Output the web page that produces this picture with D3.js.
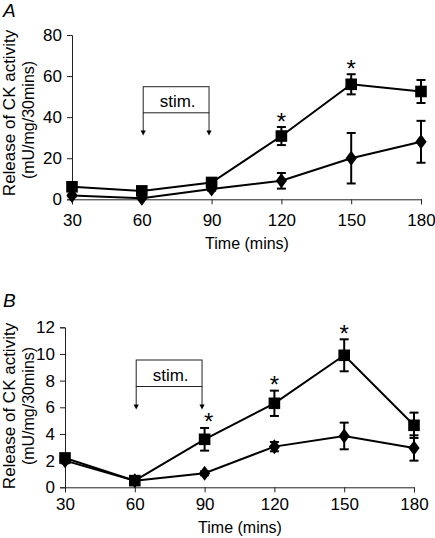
<!DOCTYPE html>
<html>
<head>
<meta charset="utf-8">
<script src="https://cdn.jsdelivr.net/npm/d3@7"></script>
<style>
  html, body { margin: 0; padding: 0; background: #fff; }
  text { font-family: "Liberation Sans", Arial, sans-serif; fill: #000; }
</style>
</head>
<body>
<svg id="chart" width="435" height="538"></svg>
<script>
// ---- data ----
const times = [30, 60, 90, 120, 150, 180];

const aSquare     = [6.1, 4.1, 8.2, 30.8, 56.0, 52.5];
const aSquareErr  = [0.8, 0.8, 1.0, 4.4, 4.9, 5.6];
const aDiamond    = [1.8, 0.5, 5.0, 9.0, 20.0, 28.0];
const aDiamondErr = [0.5, 0.3, 0.8, 3.8, 12.3, 10.2];
const aStars      = [120, 150];
const aYTicks     = [0, 20, 40, 60, 80];

const bSquare     = [2.2, 0.5, 3.6, 6.3, 9.9, 4.65];
const bSquareErr  = [0.3, 0.2, 0.85, 0.95, 1.2, 0.95];
const bDiamond    = [2.0, 0.5, 1.05, 3.05, 3.85, 2.95];
const bDiamondErr = [0.2, 0.2, 0.15, 0.35, 1.0, 0.95];
const bStars      = [90, 120, 150];
const bYTicks     = [0, 2, 4, 6, 8, 10, 12];

const xTicks = [30, 60, 90, 120, 150, 180];
const yTitle1 = "Release of CK activity";
const yTitle2 = "(mU/mg/30mins)";
const xTitle = "Time (mins)";
const stimLabel = "stim.";
const stimRange = [60.6, 88.9];

// ---- layout ----
const panels = [
  { label: "A", labelY: 17, sq: aSquare, sqE: aSquareErr, di: aDiamond, diE: aDiamondErr,
    stars: aStars, yTicks: aYTicks, yMax: 80,
    xr: [72, 421], yr: [199.3, 35], tickLabY: 226.5, xTitleX: 247, xTitleY: 249,
    yt1: 113, yt2: 120, stim: { top: 86.7, mid: 112.8, tip: 135.5 }, starDx: [0, 0] },
  { label: "B", labelY: 307, sq: bSquare, sqE: bSquareErr, di: bDiamond, diE: bDiamondErr,
    stars: bStars, yTicks: bYTicks, yMax: 12,
    xr: [65, 414], yr: [487.3, 327.3], tickLabY: 510, xTitleX: 240, xTitleY: 533,
    yt1: 406, yt2: 406, stim: { top: 360, mid: 386.5, tip: 409.5 }, starDx: [4, 0, 0] }
];

const svg = d3.select("#chart");
const axisColor = "#222";
const fontFam = "'Liberation Sans', Arial, sans-serif";

panels.forEach(p => {
  const x = d3.scaleLinear().domain([30, 180]).range(p.xr);
  const y = d3.scaleLinear().domain([0, p.yMax]).range(p.yr);
  const g = svg.append("g");

  // panel letter
  g.append("text").attr("x", 3).attr("y", p.labelY)
    .attr("font-size", 19).attr("font-style", "italic").text(p.label);

  // y axis
  const yAxis = d3.axisLeft(y).tickValues(p.yTicks).tickSize(5).tickPadding(5)
    .tickFormat(d3.format("d"));
  const ya = g.append("g").attr("transform", `translate(${p.xr[0]},0)`).call(yAxis);
  ya.attr("font-family", fontFam).attr("font-size", 17);
  ya.select(".domain").attr("stroke", axisColor);
  ya.selectAll(".tick line").attr("stroke", axisColor);
  ya.selectAll(".tick text").attr("fill", "#000");

  // x axis
  const xAxis = d3.axisBottom(x).tickValues(xTicks).tickSize(5).tickFormat(d3.format("d"));
  const xa = g.append("g").attr("transform", `translate(0,${p.yr[0]})`).call(xAxis);
  xa.attr("font-family", fontFam).attr("font-size", 17);
  xa.select(".domain").attr("stroke", axisColor);
  xa.selectAll(".tick line").attr("stroke", axisColor);
  xa.selectAll(".tick text").attr("fill", "#000").attr("dy", null).attr("y", p.tickLabY - p.yr[0]);

  // axis titles
  g.append("text").attr("transform", `translate(15,${p.yt1}) rotate(-90)`)
    .attr("text-anchor", "middle").attr("font-size", 17).text(yTitle1);
  g.append("text").attr("transform", `translate(34,${p.yt2}) rotate(-90)`)
    .attr("text-anchor", "middle").attr("font-size", 16).text(yTitle2);
  g.append("text").attr("x", p.xTitleX).attr("y", p.xTitleY)
    .attr("text-anchor", "middle").attr("font-size", 16).text(xTitle);

  // stim annotation
  const sx0 = x(stimRange[0]), sx1 = x(stimRange[1]);
  const s = p.stim;
  g.append("rect").attr("x", sx0).attr("y", s.top).attr("width", sx1 - sx0).attr("height", s.mid - s.top)
    .attr("fill", "none").attr("stroke", axisColor).attr("stroke-width", 1);
  [sx0, sx1].forEach(sx => {
    g.append("line").attr("x1", sx).attr("x2", sx).attr("y1", s.mid).attr("y2", s.tip - 4)
      .attr("stroke", axisColor).attr("stroke-width", 1);
    g.append("path").attr("d", `M${sx - 2.6},${s.tip - 5} L${sx + 2.6},${s.tip - 5} L${sx},${s.tip} Z`)
      .attr("fill", "#000");
  });
  g.append("text").attr("x", (sx0 + sx1) / 2 + 1.5).attr("y", s.mid - 5.5)
    .attr("text-anchor", "middle").attr("font-size", 17).text(stimLabel);

  const series = [
    { v: p.di, e: p.diE, shape: "diamond" },
    { v: p.sq, e: p.sqE, shape: "square" }
  ];
  const line = d3.line().x((d, i) => x(times[i])).y(d => y(d));

  series.forEach(sr => {
    g.append("path").datum(sr.v).attr("d", line)
      .attr("fill", "none").attr("stroke", "#000").attr("stroke-width", 2);
    const eb = g.append("g");
    sr.v.forEach((v, i) => {
      const cx = x(times[i]);
      const yt = y(v + sr.e[i]), yb = y(Math.max(0, v - sr.e[i]));
      eb.append("line").attr("x1", cx).attr("x2", cx).attr("y1", yt).attr("y2", yb)
        .attr("stroke", "#000").attr("stroke-width", 2);
      [yt, yb].forEach(yy => eb.append("line").attr("x1", cx - 4.5).attr("x2", cx + 4.5)
        .attr("y1", yy).attr("y2", yy).attr("stroke", "#000").attr("stroke-width", 2));
    });
    g.selectAll(null).data(sr.v).enter().append("path")
      .attr("transform", (d, i) => `translate(${x(times[i])},${y(d)})`)
      .attr("d", sr.shape === "square" ? "M-5.8,-5.8H5.8V5.8H-5.8Z" : "M0,-7.5L5.6,0L0,7.5L-5.6,0Z")
      .attr("fill", "#000");
  });

  // significance stars
  p.stars.forEach((t, k) => {
    const i = times.indexOf(t);
    const top = Math.min(y(p.sq[i] + p.sqE[i]), y(p.sq[i]) - 6);
    g.append("text").attr("x", x(t) + p.starDx[k]).attr("y", top - 11 + 13.5)
      .attr("text-anchor", "middle").attr("font-size", 24).text("*");
  });
});
</script>
</body>
</html>
